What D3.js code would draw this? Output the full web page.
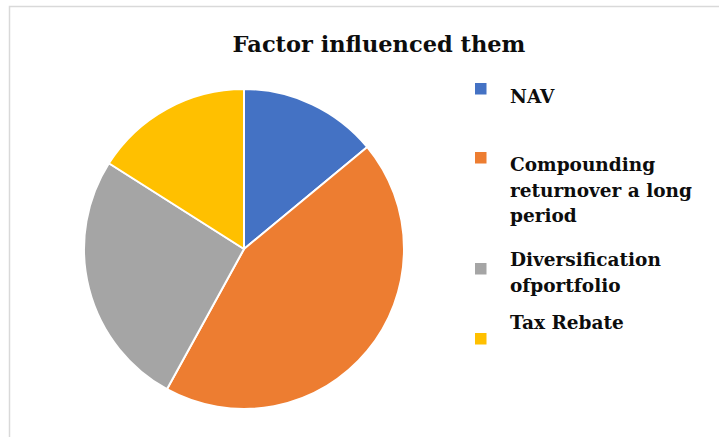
<!DOCTYPE html>
<html>
<head>
<meta charset="utf-8">
<script src="https://cdn.jsdelivr.net/npm/d3@7"></script>
<style>
  html, body { margin: 0; padding: 0; background: #fff; }
  svg { display: block; }
  text { font-family: "DejaVu Serif", "Liberation Serif", serif; font-weight: bold; fill: #0d0d0d; }
</style>
</head>
<body>
<svg id="chart" width="719" height="437"></svg>
<script>
// Survey answers: which factor influenced the investors
const categories = ["NAV", "Compounding returnover a long period", "Diversification ofportfolio", "Tax Rebate"];
const values = [7, 22, 13, 8];
const colors = ["#4472C4", "#ED7D31", "#A5A5A5", "#FFC000"];
// Legend labels as they wrap in the legend box
const legendLines = [
  ["NAV"],
  ["Compounding", "returnover a long", "period"],
  ["Diversification", "ofportfolio"],
  ["Tax Rebate"]
];
const title = "Factor influenced them";

const svg = d3.select("#chart");

// chart area frame
svg.append("rect")
  .attr("x", 9.5).attr("y", 6.5)
  .attr("width", 740).attr("height", 460)
  .attr("fill", "#fff")
  .attr("stroke", "#d9d9d9")
  .attr("stroke-width", 1.5);

svg.append("text")
  .attr("x", 379).attr("y", 52)
  .attr("text-anchor", "middle")
  .style("font-size", "22.5px")
  .text(title);

// pie
const cx = 244, cy = 249, r = 160;
const pie = d3.pie().sort(null).value(d => d)(values);
const arc = d3.arc().innerRadius(0).outerRadius(r);
const color = d3.scaleOrdinal().domain(categories).range(colors);

svg.append("g")
  .attr("transform", `translate(${cx},${cy})`)
  .selectAll("path")
  .data(pie)
  .join("path")
  .attr("d", arc)
  .attr("fill", (d, i) => color(categories[i]))
  .attr("stroke", "#fff")
  .attr("stroke-width", 2)
  .attr("stroke-linejoin", "round");

// legend
const swatchY = [83, 152, 263, 333];   // swatch tops
const textY = [103, 171, 266, 329];    // first-line baselines
const lineH = 25.5;
const legend = svg.append("g");
categories.forEach((c, i) => {
  legend.append("rect")
    .attr("x", 475).attr("y", swatchY[i])
    .attr("width", 11.5).attr("height", 11.5)
    .attr("fill", color(c));
  const t = legend.append("text")
    .attr("x", 510).attr("y", textY[i])
    .style("font-size", "18.5px");
  legendLines[i].forEach((ln, j) => {
    t.append("tspan").attr("x", 510).attr("y", textY[i] + j * lineH).text(ln);
  });
});
</script>
</body>
</html>
